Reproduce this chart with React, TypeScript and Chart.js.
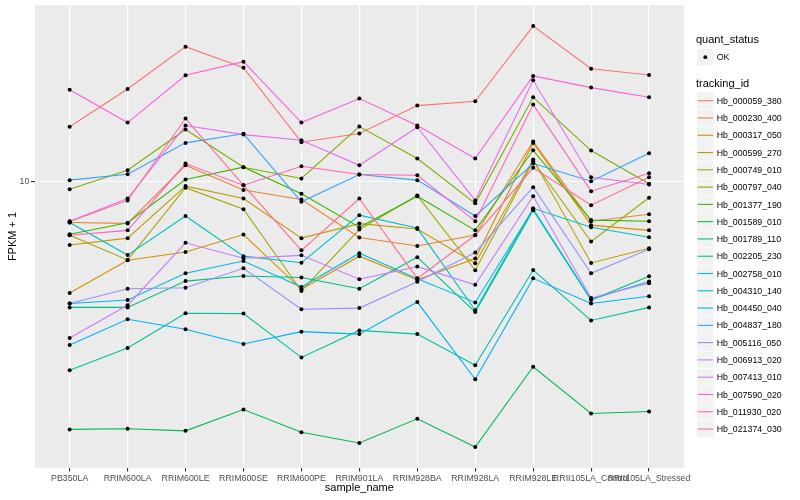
import React, { useEffect, useRef } from "react";
import { Chart, registerables } from "chart.js";

Chart.register(...registerables);

const sampleNames = [
  "PB350LA",
  "RRIM600LA",
  "RRIM600LE",
  "RRIM600SE",
  "RRIM600PE",
  "RRIM901LA",
  "RRIM928BA",
  "RRIM928LA",
  "RRIM928LE",
  "RRII105LA_Control",
  "RRII105LA_Stressed",
];

const trackingIds = [
  "Hb_000059_380",
  "Hb_000230_400",
  "Hb_000317_050",
  "Hb_000599_270",
  "Hb_000749_010",
  "Hb_000797_040",
  "Hb_001377_190",
  "Hb_001589_010",
  "Hb_001789_110",
  "Hb_002205_230",
  "Hb_002758_010",
  "Hb_004310_140",
  "Hb_004450_040",
  "Hb_004837_180",
  "Hb_005116_050",
  "Hb_006913_020",
  "Hb_007413_010",
  "Hb_007590_020",
  "Hb_011930_020",
  "Hb_021374_030",
];

const seriesColors = [
  "#F8766D", "#EA8331", "#D89000", "#C09B00", "#A3A500",
  "#7CAE00", "#39B600", "#00BB4E", "#00BF7D", "#00C1A3",
  "#00BFC4", "#00BAE0", "#00B0F6", "#35A2FF", "#9590FF",
  "#C77CFF", "#E76BF3", "#FA62DB", "#FF62BC", "#FF6C91",
];

const quantStatus = ["OK"];

// FPKM + 1 per sample, one array per tracking_id
const hb_000059_380 = [13.68, 17.02, 21.72, 19.24, 12.52, 13.16, 15.46, 15.85, 24.46, 19.13, 18.45];
const hb_000230_400 = [7.88, 7.84, 10.96, 9.5, 9.0, 7.23, 6.88, 7.33, 12.57, 7.94, 8.26];
const hb_000317_050 = [5.25, 6.34, 6.65, 7.35, 5.36, 6.49, 5.66, 6.4, 12.47, 7.76, 7.53];
const hb_000599_270 = [6.92, 7.2, 9.72, 9.05, 7.2, 7.83, 7.59, 6.23, 11.33, 6.24, 6.79];
const hb_000749_010 = [7.32, 6.35, 9.63, 8.51, 5.31, 7.57, 9.21, 5.98, 11.22, 7.06, 9.09];
const hb_000797_040 = [9.55, 10.65, 13.47, 10.84, 10.16, 13.7, 11.4, 8.8, 16.22, 11.93, 9.85];
const hb_001377_190 = [7.36, 7.87, 10.1, 10.84, 9.3, 7.67, 9.17, 7.53, 11.95, 7.99, 7.94];
const hb_001589_010 = [2.39, 2.4, 2.37, 2.68, 2.35, 2.21, 2.54, 2.16, 3.43, 2.62, 2.65];
const hb_001789_110 = [4.83, 4.83, 5.62, 5.79, 5.74, 5.38, 6.45, 4.7, 8.46, 5.04, 5.78];
const hb_002205_230 = [3.36, 3.82, 4.67, 4.66, 3.62, 4.23, 4.14, 3.46, 5.99, 4.48, 4.83];
const hb_002758_010 = [7.88, 6.53, 8.18, 6.49, 6.25, 8.22, 7.63, 4.75, 8.55, 7.67, 7.24];
const hb_004310_140 = [4.94, 5.04, 5.88, 6.31, 5.43, 6.6, 5.7, 4.97, 8.52, 5.06, 5.61];
const hb_004450_040 = [3.89, 4.51, 4.26, 3.91, 4.2, 4.14, 4.98, 3.19, 5.71, 4.94, 5.15];
const hb_004837_180 = [10.06, 10.41, 12.47, 13.14, 8.88, 10.39, 10.06, 8.18, 11.07, 10.0, 11.75];
const hb_005116_050 = [4.94, 5.38, 5.41, 6.05, 4.78, 4.81, 5.6, 6.63, 9.66, 5.88, 6.75];
const hb_006913_020 = [4.05, 4.89, 7.01, 6.41, 6.52, 5.68, 6.11, 5.5, 9.17, 5.1, 5.55];
const hb_007413_010 = [7.94, 9.05, 13.78, 13.08, 12.66, 10.96, 13.65, 8.95, 17.89, 10.23, 9.81];
const hb_007590_020 = [16.95, 14.02, 18.41, 19.92, 14.02, 16.1, 13.78, 11.4, 18.35, 17.15, 16.22];
const hb_011930_020 = [7.32, 7.53, 11.07, 9.77, 10.9, 10.39, 10.35, 7.94, 15.55, 9.44, 10.47];
const hb_021374_030 = [7.93, 8.95, 14.35, 9.77, 6.71, 9.05, 5.71, 7.32, 10.8, 8.71, 10.23];

const seriesValues = [
  hb_000059_380, hb_000230_400, hb_000317_050, hb_000599_270, hb_000749_010,
  hb_000797_040, hb_001377_190, hb_001589_010, hb_001789_110, hb_002205_230,
  hb_002758_010, hb_004310_140, hb_004450_040, hb_004837_180, hb_005116_050,
  hb_006913_020, hb_007413_010, hb_007590_020, hb_011930_020, hb_021374_030,
];

const yTickValues = [10];
const yTickLabels = ["10"];

const FONT = '"Liberation Sans", Arial, Helvetica, sans-serif';

// layout (pixels)
const PANEL_LEFT = 34.9;
const PANEL_RIGHT = 683.8;
const PANEL_TOP = 5;
const PANEL_BOTTOM = 468;
const W = 800;
const H = 500;

const panelPlugin = {
  id: "ggPanel",
  beforeDraw(chart: any) {
    const { ctx, chartArea } = chart;
    ctx.save();
    ctx.fillStyle = "#FFFFFF";
    ctx.fillRect(0, 0, chart.width, chart.height);
    ctx.fillStyle = "#EBEBEB";
    ctx.fillRect(chartArea.left, chartArea.top, chartArea.right - chartArea.left, chartArea.bottom - chartArea.top);
    ctx.restore();
  },
  afterDraw(chart: any) {
    const { ctx, chartArea } = chart;
    ctx.save();
    ctx.fillStyle = "#000000";
    ctx.font = `11px ${FONT}`;
    ctx.textAlign = "center";
    ctx.textBaseline = "alphabetic";
    ctx.fillText("sample_name", (chartArea.left + chartArea.right) / 2, 490.5);
    ctx.translate(15.6, (chartArea.top + chartArea.bottom) / 2);
    ctx.rotate(-Math.PI / 2);
    ctx.fillText("FPKM + 1", 0, 0);
    ctx.restore();
  },
};

function Legend() {
  const rowStart = 100.7;
  const rowStep = 17.28;
  const keyX = 697;
  const keyW = 16.6;
  return (
    <svg
      width={W}
      height={H}
      style={{ position: "absolute", left: 0, top: 0, pointerEvents: "none" }}
      fontFamily={FONT}
    >
      <text x={696} y={43} fontSize={11} fill="#000">quant_status</text>
      <rect x={keyX} y={48.9} width={keyW} height={16.6} fill="#F2F2F2" />
      <circle cx={keyX + keyW / 2} cy={57.2} r={1.9} fill="#000" />
      <text x={716.7} y={60.4} fontSize={8.8} fill="#000">{quantStatus[0]}</text>
      <text x={696} y={87} fontSize={11} fill="#000">tracking_id</text>
      {trackingIds.map((id, i) => {
        const cy = rowStart + i * rowStep;
        return (
          <g key={id}>
            <rect x={keyX} y={cy - 8.3} width={keyW} height={16.6} fill="#F2F2F2" />
            <line x1={keyX + 0.6} x2={keyX + keyW - 0.6} y1={cy} y2={cy} stroke={seriesColors[i]} strokeWidth={1.1} />
            <text x={716.7} y={cy + 3.15} fontSize={8.8} fill="#000">{id}</text>
          </g>
        );
      })}
    </svg>
  );
}

export default function App() {
  const canvasRef = useRef<HTMLCanvasElement | null>(null);

  useEffect(() => {
    const canvas = canvasRef.current;
    if (!canvas) return;

    const all = seriesValues.flat();
    const logs = all.map((v) => Math.log10(v));
    const lo = Math.min(...logs);
    const hi = Math.max(...logs);
    const r = hi - lo;
    const yMin = Math.pow(10, lo - 0.05 * r);
    const yMax = Math.pow(10, hi + 0.05 * r);

    const lineSets = seriesValues.map((vals, i) => ({
      type: "line" as const,
      label: trackingIds[i],
      data: vals.map((v, j) => ({ x: j, y: v })),
      borderColor: seriesColors[i],
      backgroundColor: seriesColors[i],
      borderWidth: 1.1,
      pointRadius: 0,
      pointHoverRadius: 0,
      fill: false,
      tension: 0,
      order: 20 - i,
    }));

    const pointSet = {
      type: "line" as const,
      label: quantStatus[0],
      data: seriesValues.flatMap((vals) => vals.map((v, j) => ({ x: j, y: v }))),
      showLine: false,
      pointRadius: 2,
      pointHoverRadius: 2,
      pointBorderWidth: 0,
      pointBackgroundColor: "#000000",
      borderColor: "#000000",
      order: -1,
    };

    const chart = new Chart(canvas, {
      type: "line",
      data: { datasets: [pointSet as any, ...lineSets] },
      options: {
        responsive: false,
        animation: false,
        devicePixelRatio: 1,
        layout: {
          padding: { left: 0, top: PANEL_TOP, right: W - PANEL_RIGHT, bottom: 0 },
        },
        plugins: {
          legend: { display: false },
          tooltip: { enabled: false },
          title: { display: false },
        },
        scales: {
          x: {
            type: "linear",
            min: -0.6,
            max: 10.6,
            afterBuildTicks: (s: any) => {
              s.ticks = sampleNames.map((_, i) => ({ value: i }));
            },
            afterFit: (s: any) => {
              s.height = H - PANEL_BOTTOM;
              s.paddingLeft = 0;
              s.paddingRight = 0;
            },
            ticks: {
              autoSkip: false,
              maxRotation: 0,
              minRotation: 0,
              padding: 1.5,
              color: "#4D4D4D",
              font: { family: FONT, size: 8.8, lineHeight: 1.2 },
              callback: (v: any) => sampleNames[Math.round(Number(v))] ?? "",
            },
            grid: {
              color: "#FFFFFF",
              lineWidth: 1.1,
              tickColor: "#333333",
              tickLength: 3.5,
              tickWidth: 1.1,
            },
            border: { display: false },
          },
          y: {
            type: "logarithmic",
            min: yMin,
            max: yMax,
            afterBuildTicks: (s: any) => {
              s.ticks = yTickValues.map((v) => ({ value: v }));
            },
            afterFit: (s: any) => {
              s.width = PANEL_LEFT;
              s.paddingTop = 0;
              s.paddingBottom = 0;
            },
            ticks: {
              padding: 1.5,
              color: "#4D4D4D",
              font: { family: FONT, size: 8.8, lineHeight: 1.2 },
              callback: (v: any) => {
                const k = yTickValues.indexOf(Number(v));
                return k >= 0 ? yTickLabels[k] : "";
              },
            },
            grid: {
              color: "#FFFFFF",
              lineWidth: 1.1,
              tickColor: "#333333",
              tickLength: 4,
              tickWidth: 1.1,
            },
            border: { display: false },
          },
        },
      },
      plugins: [panelPlugin],
    });

    return () => chart.destroy();
  }, []);

  return (
    <div style={{ position: "absolute", left: 0, top: 0, width: W, height: H, background: "#FFFFFF" }}>
      <canvas ref={canvasRef} width={W} height={H} style={{ width: W, height: H, display: "block" }} />
      <Legend />
    </div>
  );
}
